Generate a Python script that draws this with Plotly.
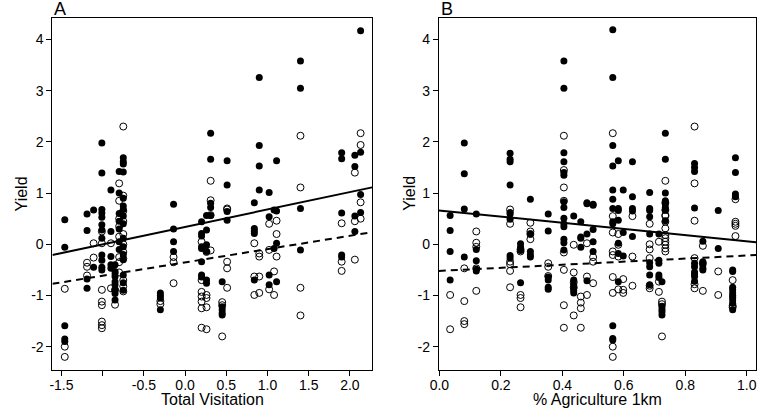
import plotly.graph_objects as go
import numpy as np

# ---------------- Panel A data (Total Visitation) ----------------
a_fill_cols = [-1.46, -1.19, -1.11, -1.01, -0.90, -0.85, -0.80, -0.75,
               -0.30, -0.14, 0.20, 0.26, 0.31, 0.45, 0.51, 0.84, 0.90,
               1.02, 1.08, 1.11, 1.40, 1.90, 2.06, 2.13]
a_fill_vals = [
    [0.48, -0.06, -1.59, -1.85, -1.90],
    [0.59, 0.27, -0.68, -0.86],
    [0.67, -0.45],
    [1.98, 1.39, 0.68, 0.61, 0.53, 0.38, 0.28, 0.12, -0.21, -0.31, -0.45, -0.50],
    [1.06, 0.25, -0.24, -0.40, -0.47],
    [-0.40, -0.53, -0.63, -0.73, -0.79, -0.89, -0.96, -1.09],
    [1.42, 1.00, 0.60, 0.45, 0.30, 0.05, -0.10],
    [1.69, 1.61, 1.57, 1.41, 0.90, 0.75, 0.68, 0.55, 0.40, 0.12, -0.05, -0.20, -0.30, -0.60, -0.75, -0.90],
    [-0.95, -1.00, -1.05, -1.28],
    [0.78, 0.30, 0.05, -0.14],
    [0.44, 0.21, 0.16, -0.05, -0.08, -0.34, -0.60, -0.64],
    [0.56, 0.28, -0.01, -0.14, -0.70, -0.76],
    [2.17, 1.66, 0.80, 0.72, 0.56],
    [-0.73, -1.22, -1.28, -1.34, -1.38],
    [1.63, 1.16, 0.64, 0.47],
    [0.81, 0.31, 0.26, 0.21, -0.70],
    [3.26, 1.93, 1.53, 1.06],
    [1.01, 0.54, -0.60, -0.79],
    [0.67, -0.08],
    [1.63, 0.65, 0.02, -0.73],
    [3.58, 3.05, 0.70, -0.11],
    [1.79, 1.67, 0.61, -0.21, -0.25],
    [1.74, 1.52, 0.55, 0.25],
    [4.17, 1.80, 0.97, 0.62],
]
a_open_cols = [-1.46, -1.19, -1.11, -1.01, -0.90, -0.85, -0.80, -0.75,
               -0.30, -0.14, 0.20, 0.26, 0.31, 0.45, 0.51, 0.84, 0.90,
               1.02, 1.08, 1.11, 1.40, 1.90, 2.06, 2.13]
a_open_vals = [
    [-0.87, -2.00, -2.20],
    [-0.36, -0.44, -0.61],
    [0.02, -0.26],
    [0.25, 0.02, -0.89, -1.12, -1.19, -1.51, -1.58, -1.64],
    [0.02, -0.86],
    [-0.89, -1.18],
    [1.19, 0.85, 0.50, 0.35, 0.15, -0.25, -0.35, -0.55],
    [2.30, 0.95, 0.65, 0.45, 0.20, 0.00, -0.15, -0.28, -0.70, -0.82, -0.92],
    [-1.11, -1.17],
    [-0.25, -0.35, -0.76],
    [0.05, -0.70, -0.93, -1.02, -1.12, -1.25, -1.63],
    [-0.15, -0.99, -1.05, -1.23, -1.66],
    [1.24, 0.86, 0.57, -0.12],
    [-1.13, -1.19, -1.80],
    [0.70, 0.68, -0.34, -0.47, -0.85],
    [0.02, -0.63, -0.99],
    [-0.18, -0.24, -0.63, -0.95],
    [0.40, -0.11, -0.88],
    [-0.53, -0.99],
    [0.46, 0.20, -0.24],
    [2.12, 1.11, -0.85, -1.39],
    [0.41, -0.34, -0.52],
    [1.40, 0.45, -0.30],
    [2.17, 1.94, 0.82, 0.50],
]

# ---------------- Panel B data (% Agriculture 1km) ----------------
b_fill_cols = [0.035, 0.081, 0.12, 0.23, 0.264, 0.296, 0.354, 0.405, 0.437,
               0.46, 0.48, 0.50, 0.564, 0.582, 0.598, 0.628, 0.684, 0.714,
               0.724, 0.735, 0.83, 0.857, 0.907, 0.954, 0.963]
b_fill_vals = [
    [0.56, 0.27, -0.14, -0.70],
    [1.98, 1.38, 0.69, -0.25],
    [0.59, -0.10, -0.32, -0.49, -0.52],
    [1.78, 1.66, 1.61, 1.16, 0.62, 0.59, 0.49, -0.22, -0.27],
    [0.01, -0.06, -0.12, -0.75],
    [0.88, 0.20, -0.14, -0.21, -0.25],
    [0.59, 0.26, -0.64, -0.70, -0.84, -0.88],
    [3.58, 3.05, 1.79, 1.61, 1.40, 1.35, 0.83, 0.72, 0.51, 0.40, 0.34, 0.10, 0.03, -0.11],
    [0.55, -0.70, -0.79, -0.86, -0.91, -0.95],
    [0.44, 0.14, 0.12, -0.06],
    [0.81, 0.79, 0.20, -0.71],
    [0.78, 0.76, 0.29, 0.05, -0.14],
    [4.19, 3.26, 1.93, 1.53, 1.06, 0.88, 0.70, 0.44, 0.40, -1.59, -1.84, -1.87],
    [1.63, 0.70, 0.66, 0.47, 0.02, -0.18, -0.73],
    [1.06, 0.23, -0.23],
    [1.61, 0.93, 0.70, 0.65, 0.15],
    [1.01, 0.70, 0.66, 0.54, 0.20, -0.36, -0.44, -0.60, -0.79],
    [0.20, -0.31, -0.37, -0.60, -0.65],
    [-0.73, -1.21, -1.27, -1.32, -1.38],
    [2.17, 1.66, 1.00, 0.85, 0.79, 0.72, 0.67, 0.46],
    [1.58, 1.50, 1.42, 0.71, -0.37, -0.44, -0.54, -0.58, -0.63, -0.72],
    [0.06, -0.34, -0.40, -0.47, -0.50],
    [0.66, -0.08],
    [-0.50, -0.53, -0.84, -0.89, -0.95, -1.00, -1.04, -1.09, -1.15, -1.28],
    [1.69, 1.40, 0.98, 0.93],
]
b_open_cols = [0.035, 0.081, 0.12, 0.23, 0.264, 0.296, 0.354, 0.405, 0.437,
               0.46, 0.48, 0.50, 0.564, 0.582, 0.598, 0.628, 0.684, 0.714,
               0.724, 0.735, 0.83, 0.857, 0.907, 0.954, 0.963]
b_open_vals = [
    [-0.99, -1.66],
    [-0.47, -1.11, -1.50, -1.56],
    [0.25, 0.03, -0.05, -0.47, -0.91],
    [0.68, 0.40, -0.34, -0.39, -0.52, -0.84],
    [-0.10, -0.14, -0.99, -1.05, -1.23],
    [0.42, 0.25, 0.20, 0.10],
    [-0.37, -0.44, -0.62],
    [2.12, 1.45, 1.11, 0.85, -0.16, -0.50, -1.19, -1.63],
    [-0.01, -0.55, -0.74, -0.84, -1.39],
    [-1.02, -1.14, -1.25, -1.63],
    [0.02, -0.63, -0.99],
    [-0.25, -0.34, -0.76],
    [2.17, 0.55, 0.23, -0.14, -0.21, -0.64, -0.95, -2.00, -2.20],
    [0.20, -0.01, -0.24, -0.88],
    [-0.68, -0.89, -0.95],
    [0.55, -0.24, -0.81],
    [0.40, 0.00, -0.10, -0.27, -0.81, -0.86],
    [0.05, -0.73, -0.93],
    [-1.12, -1.17, -1.80],
    [1.24, 0.81, 0.57, 0.67, 0.55, 0.44, 0.31, 0.18, 0.12, 0.05, -0.01, -0.08, -0.14],
    [2.30, 1.19, 0.46, -0.27, -0.78, -0.86],
    [-0.03, -0.37, -0.91],
    [-0.53, -0.99],
    [-0.70, -1.20, -1.23],
    [0.88, 0.44, 0.40, 0.36, 0.16],
]

# Fitted lines: (intercept, slope)
a_solid = (0.34, 0.34)
a_dashed = (-0.354, 0.26)
b_solid = (0.66, -0.60)
b_dashed = (-0.52, 0.30)

a_xticks = [-1.5, -1.0, -0.5, 0.0, 0.5, 1.0, 1.5, 2.0]
a_xticktext = ["-1.5", "", "-0.5", "0.0", "0.5", "1.0", "1.5", "2.0"]
b_xticks = [0.0, 0.2, 0.4, 0.6, 0.8, 1.0]
b_xticktext = ["0.0", "0.2", "0.4", "0.6", "0.8", "1.0"]
y_ticks = [-2, -1, 0, 1, 2, 3, 4]
y_ticktext = ["-2", "-1", "0", "1", "2", "3", "4"]

# ---------------- layout geometry ----------------
W, H = 760, 410
A_RANGE = [-1.61, 2.27]
B_RANGE = [-0.002, 1.03]
Y_RANGE = [-2.45, 4.43]
ax_left, ax_right = 44, 368
bx_left, bx_right = 435.5, 757
y_top, y_bot = 17.5, 369.7


def flat(cols, vals):
    xs, ys = [], []
    for c, v in zip(cols, vals):
        xs += [c] * len(v)
        ys += list(v)
    return xs, ys


fig = go.Figure()

def add_panel(fc, fv, oc, ov, solid, dashed, rng, xa, ya):
    ox, oy = flat(oc, ov)
    fx, fy = flat(fc, fv)
    fig.add_trace(go.Scatter(x=ox, y=oy, mode="markers", xaxis=xa, yaxis=ya,
                             marker=dict(symbol="circle-open", size=7, color="black",
                                         line=dict(width=1, color="black")),
                             showlegend=False, hoverinfo="skip"))
    fig.add_trace(go.Scatter(x=fx, y=fy, mode="markers", xaxis=xa, yaxis=ya,
                             marker=dict(symbol="circle", size=7, color="black"),
                             showlegend=False, hoverinfo="skip"))
    xx = np.array(rng)
    fig.add_trace(go.Scatter(x=xx, y=solid[0] + solid[1] * xx, mode="lines",
                             xaxis=xa, yaxis=ya, line=dict(color="black", width=2),
                             showlegend=False, hoverinfo="skip"))
    fig.add_trace(go.Scatter(x=xx, y=dashed[0] + dashed[1] * xx, mode="lines",
                             xaxis=xa, yaxis=ya,
                             line=dict(color="black", width=2, dash="7px,5px"),
                             showlegend=False, hoverinfo="skip"))

add_panel(a_fill_cols, a_fill_vals, a_open_cols, a_open_vals, a_solid, a_dashed, A_RANGE, "x", "y")
add_panel(b_fill_cols, b_fill_vals, b_open_cols, b_open_vals, b_solid, b_dashed, B_RANGE, "x2", "y2")

tickfont = dict(family="Liberation Sans, Arial, sans-serif", size=14, color="black")
axcommon = dict(showline=True, mirror=True, linecolor="black", linewidth=1,
                ticks="outside", ticklen=5, tickwidth=1, tickcolor="black",
                showgrid=False, zeroline=False, tickfont=tickfont)
ydom = [1 - y_bot / H, 1 - y_top / H]

fig.update_layout(
    width=W, height=H, margin=dict(l=0, r=0, t=0, b=0),
    plot_bgcolor="white", paper_bgcolor="white",
    xaxis=dict(domain=[ax_left / W, ax_right / W], range=A_RANGE,
               tickvals=a_xticks, ticktext=a_xticktext, anchor="y",
               ticklabelstandoff=-3, **axcommon),
    yaxis=dict(domain=ydom, range=Y_RANGE, tickvals=y_ticks, ticktext=y_ticktext,
               anchor="x", **axcommon),
    xaxis2=dict(domain=[bx_left / W, bx_right / W], range=B_RANGE,
                tickvals=b_xticks, ticktext=b_xticktext, anchor="y2",
                ticklabelstandoff=-3, **axcommon),
    yaxis2=dict(domain=ydom, range=Y_RANGE, tickvals=y_ticks, ticktext=y_ticktext,
                anchor="x2", **axcommon),
)

lab = dict(family="Liberation Sans, Arial, sans-serif", color="black")
ann = [
    dict(text="A", x=ax_left / W, y=1 - 9 / H, xanchor="left", yanchor="middle",
         font=dict(size=18, **lab)),
    dict(text="B", x=bx_left / W, y=1 - 9 / H, xanchor="left", yanchor="middle",
         font=dict(size=18, **lab)),
    dict(text="Total Visitation", x=(ax_left + ax_right) / 2 / W, y=1 - 399.5 / H,
         xanchor="center", yanchor="middle", font=dict(size=16, **lab)),
    dict(text="% Agriculture 1km", x=(bx_left + bx_right) / 2 / W, y=1 - 399.5 / H,
         xanchor="center", yanchor="middle", font=dict(size=16, **lab)),
    dict(text="Yield", x=13 / W, y=1 - (y_top + y_bot) / 2 / H, textangle=-90,
         xanchor="center", yanchor="middle", font=dict(size=16, **lab)),
    dict(text="Yield", x=(bx_left - 30) / W, y=1 - (y_top + y_bot) / 2 / H, textangle=-90,
         xanchor="center", yanchor="middle", font=dict(size=16, **lab)),
]
for a in ann:
    a.update(xref="paper", yref="paper", showarrow=False)
fig.update_layout(annotations=ann)

fig.write_html("out.html",
               config={"displayModeBar": False, "staticPlot": True},
               post_script="document.body.style.margin='0px';document.body.style.overflow='hidden';")
